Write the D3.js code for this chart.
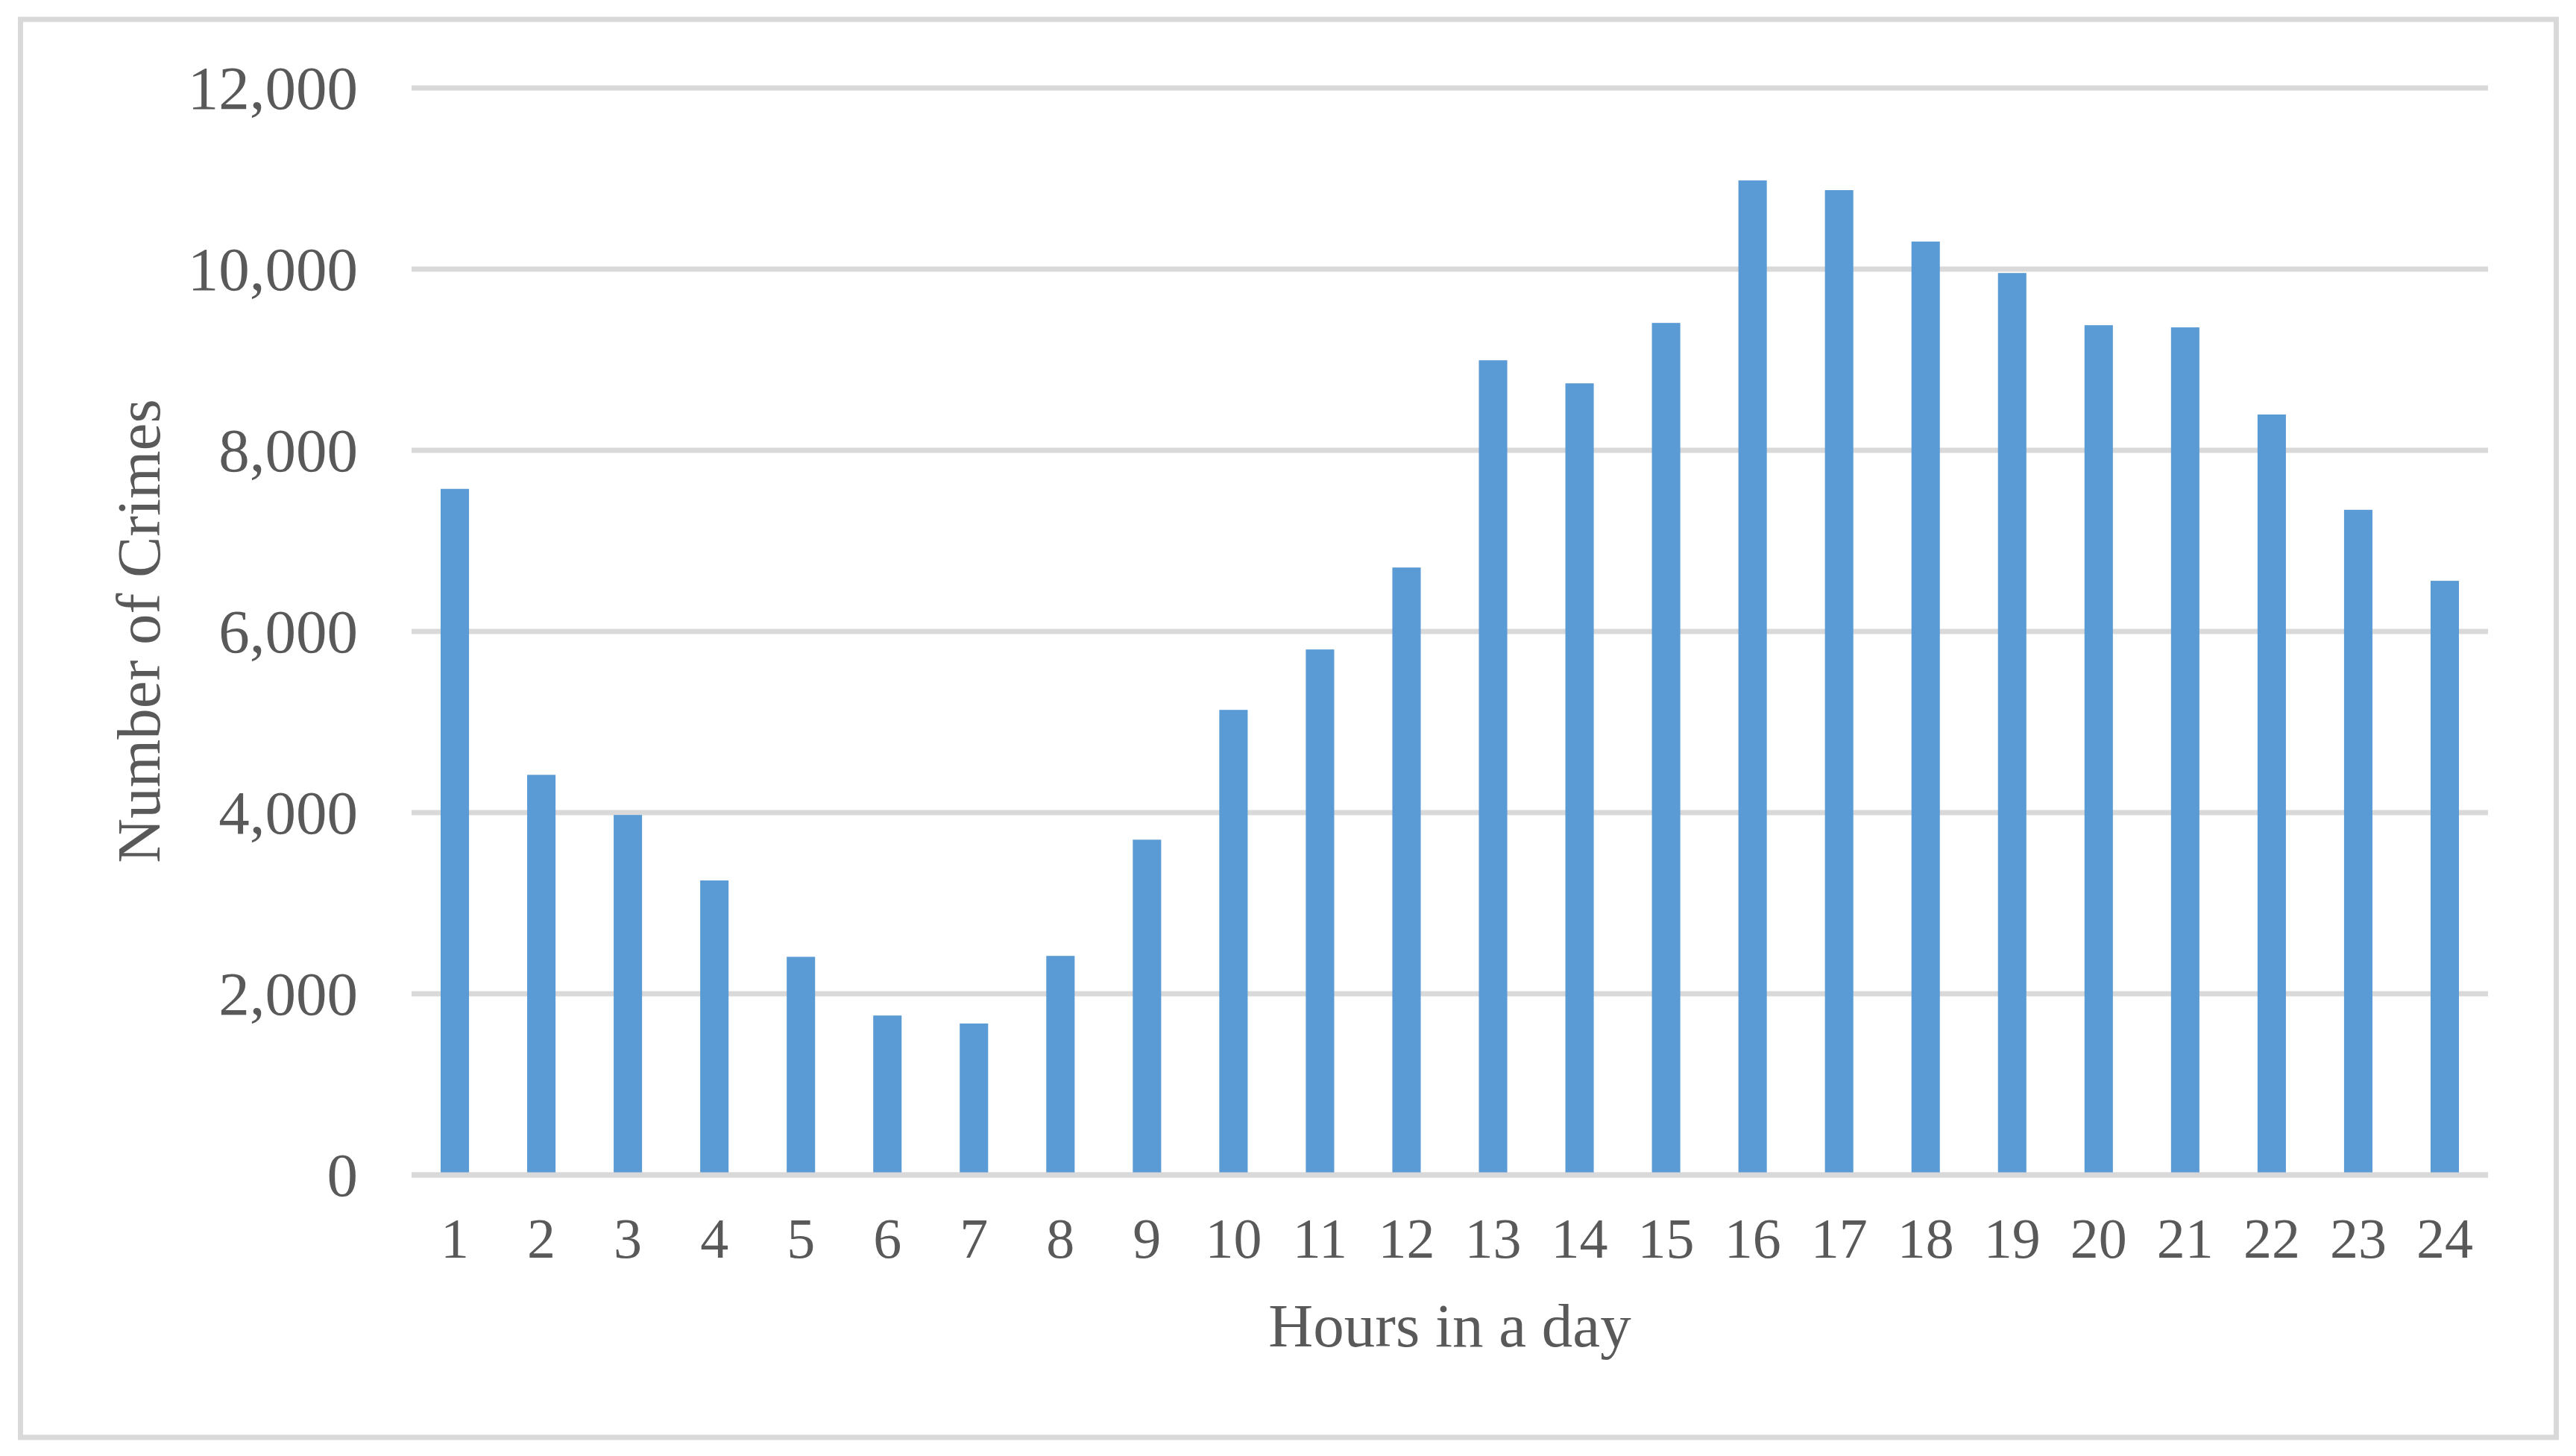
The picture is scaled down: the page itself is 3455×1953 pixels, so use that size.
<!DOCTYPE html>
<html>
<head>
<meta charset="utf-8">
<script src="https://cdn.jsdelivr.net/npm/d3@7"></script>
<style>
  html, body { margin: 0; padding: 0; background: #fff; }
  svg { display: block; }
  text { font-family: "Liberation Serif", "Times New Roman", serif; fill: #595959; }
</style>
</head>
<body>
<script>
// hours and crime counts
const hours = ['1','2','3','4','5','6','7','8','9','10','11','12',
               '13','14','15','16','17','18','19','20','21','22','23','24'];
const crimes = [7570, 4413, 3970, 3247, 2404, 1756, 1668, 2414, 3697, 5130, 5797, 6702,
                8990, 8735, 9402, 10975, 10868, 10300, 9953, 9377, 9353, 8391, 7339, 6555];
const yTicks = [0, 2000, 4000, 6000, 8000, 10000, 12000];
const xTitle = 'Hours in a day';
const yTitle = 'Number of Crimes';

const W = 3455, H = 1953;
const margin = { top: 117.5, right: W - 3337, bottom: H - 1575.5, left: 552 };
const width = W - margin.left - margin.right;
const height = H - margin.top - margin.bottom;

const svg = d3.select('body').append('svg')
    .attr('width', W)
    .attr('height', H);

// outer frame
svg.append('rect')
    .attr('x', 27.5).attr('y', 26)
    .attr('width', 3428.5 - 27.5).attr('height', 1928 - 26)
    .attr('fill', '#fff')
    .attr('stroke', '#d9d9d9')
    .attr('stroke-width', 7);

const g = svg.append('g')
    .attr('transform', `translate(${margin.left},${margin.top})`);

const x = d3.scaleBand()
    .domain(hours)
    .range([0, width])
    .paddingInner(0.672)
    .paddingOuter(0.336);

const y = d3.scaleLinear()
    .domain([0, 12000])
    .range([height, 0]);

// y axis + gridlines
const yAxis = g.append('g')
    .call(d3.axisLeft(y).tickValues(yTicks).tickFormat(d3.format(',')).tickSize(-width).tickPadding(72));
yAxis.select('.domain').remove();
yAxis.selectAll('.tick line')
    .attr('stroke', '#d9d9d9')
    .attr('stroke-width', 7);
yAxis.selectAll('.tick text')
    .attr('font-size', 83)
    .attr('dy', '0.34em')
    .attr('fill', '#595959');

// bars
g.selectAll('.bar')
    .data(crimes)
    .enter().append('rect')
    .attr('class', 'bar')
    .attr('x', (d, i) => x(hours[i]))
    .attr('y', d => y(d))
    .attr('width', x.bandwidth())
    .attr('height', d => y(0) - y(d))
    .attr('fill', '#5b9bd5');

// x axis line over bar bottoms
g.append('line')
    .attr('x1', 0).attr('x2', width)
    .attr('y1', y(0) + 0.5).attr('y2', y(0) + 0.5)
    .attr('stroke', '#d9d9d9')
    .attr('stroke-width', 7);

const xAxis = g.append('g')
    .attr('transform', `translate(0,${height})`)
    .call(d3.axisBottom(x).tickSize(0));
xAxis.select('.domain').remove();
xAxis.selectAll('.tick text')
    .attr('font-size', 76)
    .attr('y', 111.5)
    .attr('dy', 0)
    .attr('fill', '#595959');

// axis titles
svg.append('text')
    .attr('x', margin.left + width / 2)
    .attr('y', 1806)
    .attr('text-anchor', 'middle')
    .attr('font-size', 83)
    .text(xTitle);

svg.append('text')
    .attr('transform', `translate(214,${margin.top + height / 2}) rotate(-90)`)
    .attr('text-anchor', 'middle')
    .attr('font-size', 83)
    .text(yTitle);
</script>
</body>
</html>
